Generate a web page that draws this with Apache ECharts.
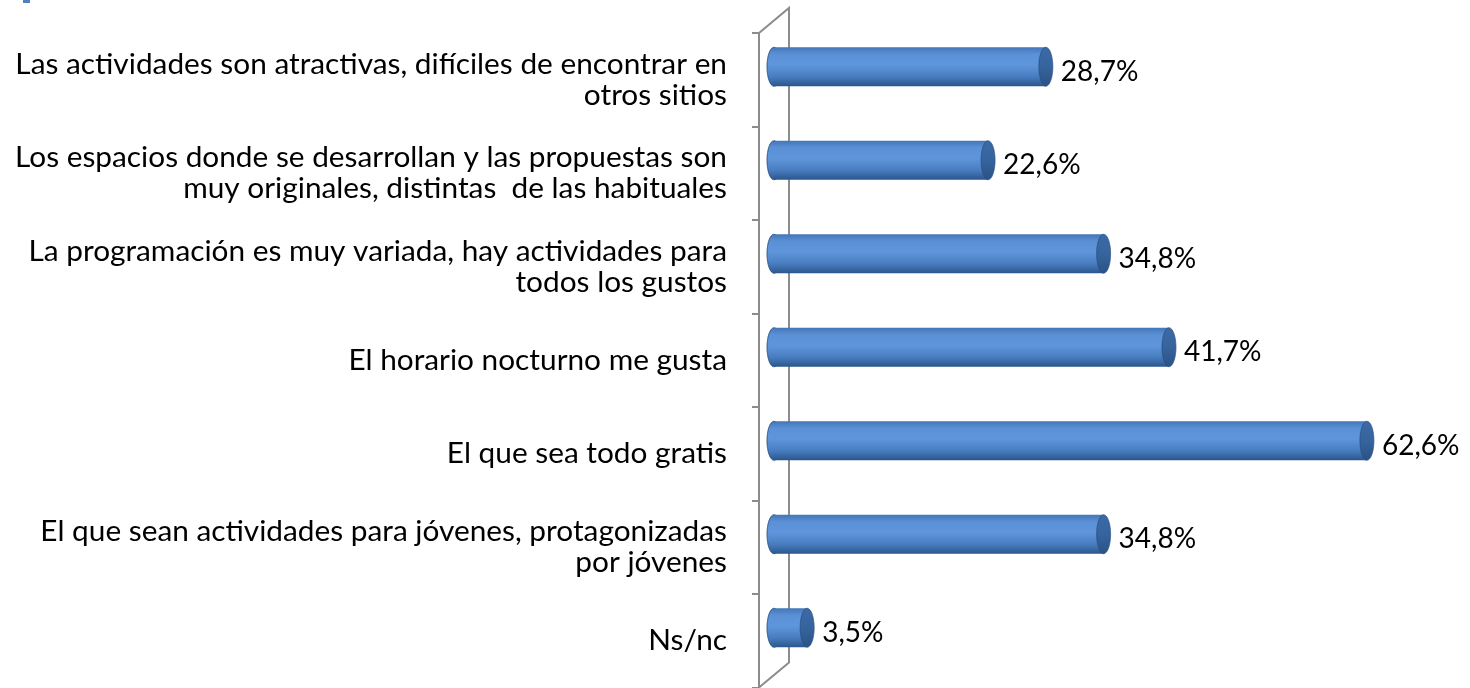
<!DOCTYPE html>
<html>
<head>
<meta charset="utf-8">
<style>
html, body { margin: 0; padding: 0; background: #fff; }
#main { width: 1470px; height: 688px; }
</style>
<script src="https://cdn.jsdelivr.net/npm/echarts@6/dist/echarts.min.js"></script>
</head>
<body>
<div id="main"></div>
<script>
var categories = [
    'Las actividades son atractivas, difíciles de encontrar en\notros sitios',
    'Los espacios donde se desarrollan y las propuestas son\nmuy originales, distintas  de las habituales',
    'La programación es muy variada, hay actividades para\ntodos los gustos',
    'El horario nocturno me gusta',
    'El que sea todo gratis',
    'El que sean actividades para jóvenes, protagonizadas\npor jóvenes',
    'Ns/nc'
];
var values = [28.7, 22.6, 34.8, 41.7, 62.6, 34.8, 3.5];

var gridLeft = 774, gridTop = 33, bandH = 93.5;
var depth = 13; // bars sit behind the front wall, drawn a little higher
var fontName = 'Lato';

var chart = echarts.init(document.getElementById('main'));

function fmt(v) {
    return v.toFixed(1).replace('.', ',') + '%';
}

var bodyGrad = new echarts.graphic.LinearGradient(0, 0, 0, 1, [
    { offset: 0, color: '#4276b8' },
    { offset: 0.18, color: '#5b90d6' },
    { offset: 0.45, color: '#5f96db' },
    { offset: 0.75, color: '#497dc1' },
    { offset: 1, color: '#2b568c' }
]);
var capGrad = new echarts.graphic.LinearGradient(0, 0, 0, 1, [
    { offset: 0, color: '#3d6aa6' },
    { offset: 0.5, color: '#36649d' },
    { offset: 1, color: '#2a5285' }
]);

function renderItem(params, api) {
    var v = api.value(0);
    var cat = api.value(1);
    var p0 = api.coord([0, cat]);
    var p1 = api.coord([v, cat]);
    var h = 39, rx = 7;
    var cy = p0[1] - depth;
    return {
        type: 'group',
        children: [
            { type: 'ellipse', shape: { cx: p0[0], cy: cy, rx: rx, ry: h / 2 },
              style: { fill: bodyGrad, stroke: 'rgba(40,80,130,0.5)', lineWidth: 1 } },
            { type: 'rect', shape: { x: p0[0], y: cy - h / 2, width: p1[0] - p0[0], height: h },
              style: { fill: bodyGrad } },
            { type: 'ellipse', shape: { cx: p1[0], cy: cy, rx: rx, ry: h / 2 },
              style: { fill: capGrad, stroke: 'rgba(40,80,130,0.4)', lineWidth: 1 } },
            { type: 'text', x: p1[0] + rx + 8, y: cy + 5,
              style: { text: fmt(v), fill: '#000', font: '28px ' + fontName,
                       verticalAlign: 'middle', align: 'left' } }
        ]
    };
}

var data = values.map(function (v, i) { return [v, i]; });

var option = {
    animation: false,
    grid: { left: gridLeft, top: gridTop, width: 663, height: bandH * categories.length },
    xAxis: { type: 'value', min: 0, max: 70, show: false },
    yAxis: {
        type: 'category',
        data: categories,
        inverse: true,
        offset: 15,
        axisLine: { show: true, onZero: false, lineStyle: { color: '#8c8c8c', width: 2 } },
        axisTick: { show: true, length: 7, interval: 0, lineStyle: { color: '#8c8c8c', width: 2 } },
        splitLine: { show: false },
        axisLabel: {
            interval: 0,
            margin: 32,
            color: '#000',
            fontFamily: fontName,
            fontSize: 29.8,
            lineHeight: 31,
            align: 'right'
        }
    },
    series: [{
        type: 'custom',
        renderItem: renderItem,
        encode: { x: 0, y: 1 },
        data: data,
        z: 3
    }]
};
chart.setOption(option);

// back edge and diagonals of the 3D axis wall
var gridBottom = gridTop + bandH * categories.length;
var fx = gridLeft - 15, bx = 789, back = 25;
var wallStyle = { stroke: '#8c8c8c', lineWidth: 2, fill: null };
chart.setOption({
    graphic: [
        { type: 'polyline', z: 1, style: wallStyle,
          shape: { points: [[fx, gridTop], [bx, gridTop - back], [bx, gridBottom - back], [fx, gridBottom]] } },
        { type: 'rect', z: 1, shape: { x: 23, y: 0, width: 7, height: 3 }, style: { fill: '#4f81bd' } }
    ]
});
</script>
</body>
</html>
